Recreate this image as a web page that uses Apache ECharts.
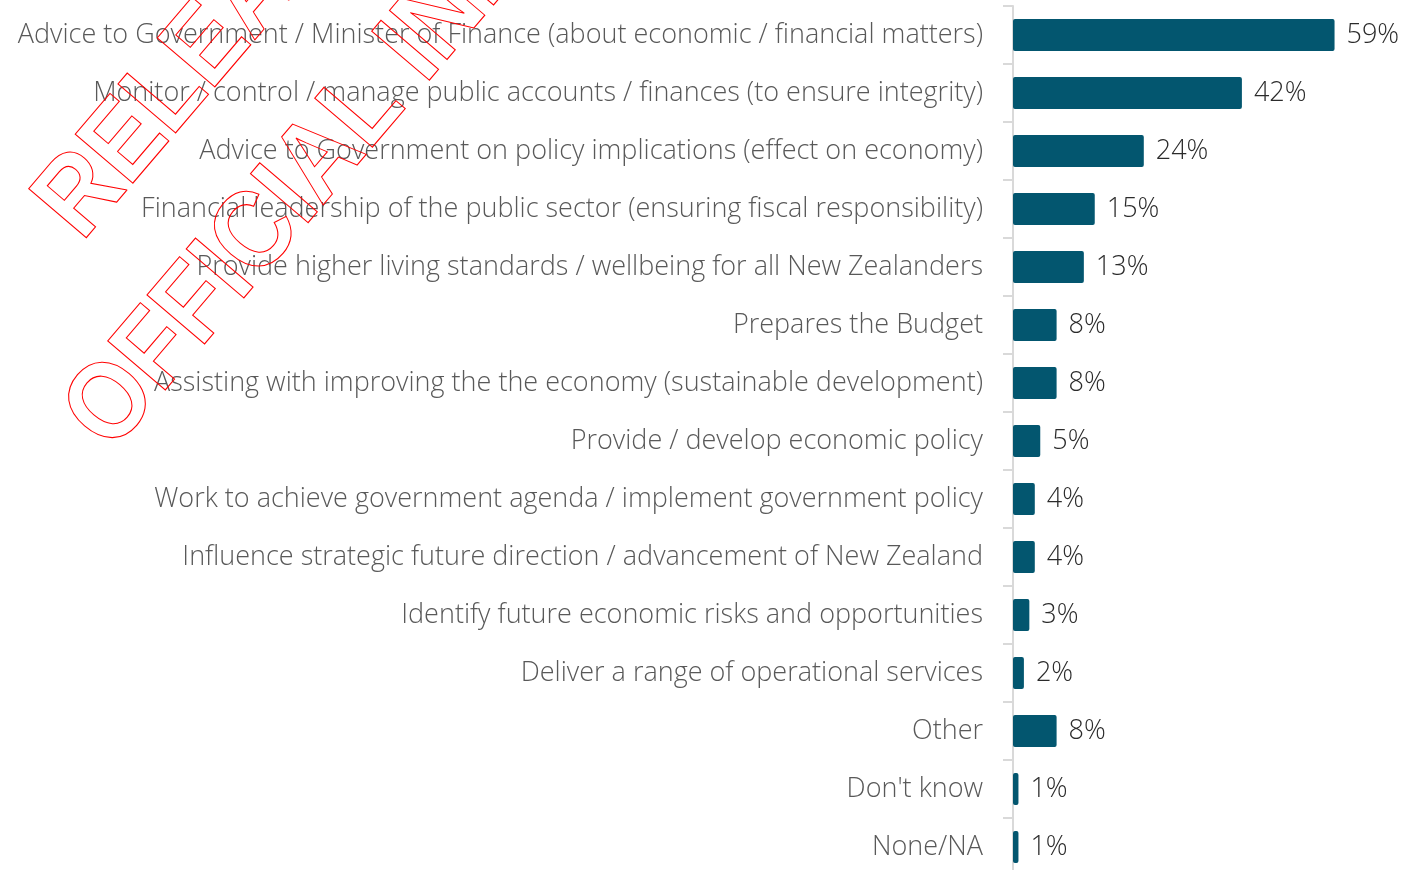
<!DOCTYPE html>
<html>
<head>
<meta charset="utf-8">
<script src="https://cdn.jsdelivr.net/npm/echarts@6/dist/echarts.min.js"></script>
<style>
  html, body { margin: 0; padding: 0; background: #fff; }
  #main { width: 1406px; height: 870px; }
</style>
</head>
<body>
<div id="main"></div>
<script>
// categories, top to bottom
var categories = [
  'Advice to Government / Minister of Finance (about economic / financial matters)',
  'Monitor / control / manage public accounts / finances (to ensure integrity)',
  'Advice to Government on policy implications (effect on economy)',
  'Financial leadership of the public sector (ensuring fiscal responsibility)',
  'Provide higher living standards / wellbeing for all New Zealanders',
  'Prepares the Budget',
  'Assisting with improving the the economy (sustainable development)',
  'Provide / develop economic policy',
  'Work to achieve government agenda / implement government policy',
  'Influence strategic future direction / advancement of New Zealand',
  'Identify future economic risks and opportunities',
  'Deliver a range of operational services',
  'Other',
  "Don't know",
  'None/NA'
];
// percent of respondents
var values = [59, 42, 24, 15, 13, 8, 8, 5, 4, 4, 3, 2, 8, 1, 1];

var watermarkLines = ['RELEASED UNDER THE', 'OFFICIAL INFORMATION ACT'];

var font = '"Open Sans", "Noto Sans", sans-serif';
var myChart = echarts.init(document.getElementById('main'));

// outlined stamp text, rotated up to the right
function stamp(text, x, y) {
  return {
    type: 'text', x: x, y: y, rotation: 0.865, scaleX: 0.9, z: 100,
    style: {
      text: text, fill: 'transparent', stroke: '#ff0000', lineWidth: 1.1,
      font: 'bold 110px "Liberation Sans", Arial, sans-serif',
      textAlign: 'left', textVerticalAlign: 'middle'
    }
  };
}

var option = {
  animation: false,
  backgroundColor: '#fff',
  grid: { left: 1013, top: 6, width: 381.5, height: 870, outerBoundsMode: 'none', containLabel: false },
  xAxis: { type: 'value', min: 0, max: 70, show: false },
  yAxis: {
    type: 'category',
    inverse: true,
    data: categories,
    axisLine: { show: true, lineStyle: { color: '#d9d9d9', width: 2 } },
    axisTick: { show: true, length: 10, lineStyle: { color: '#d9d9d9', width: 2 } },
    axisLabel: { color: '#595959', fontSize: 27, fontWeight: 300, fontFamily: font, margin: 30 }
  },
  series: [{
    type: 'bar',
    data: values,
    barWidth: 32,
    itemStyle: { color: '#03566f', borderRadius: 2 },
    label: {
      show: true,
      position: 'right',
      distance: 12,
      formatter: '{c}%',
      color: '#2b2b2b',
      fontSize: 27,
      fontWeight: 300,
      fontFamily: font
    }
  }],
  graphic: [
    stamp(watermarkLines[0], 59, 223),
    stamp(watermarkLines[1], 88, 434)
  ]
};
myChart.setOption(option);
</script>
</body>
</html>
